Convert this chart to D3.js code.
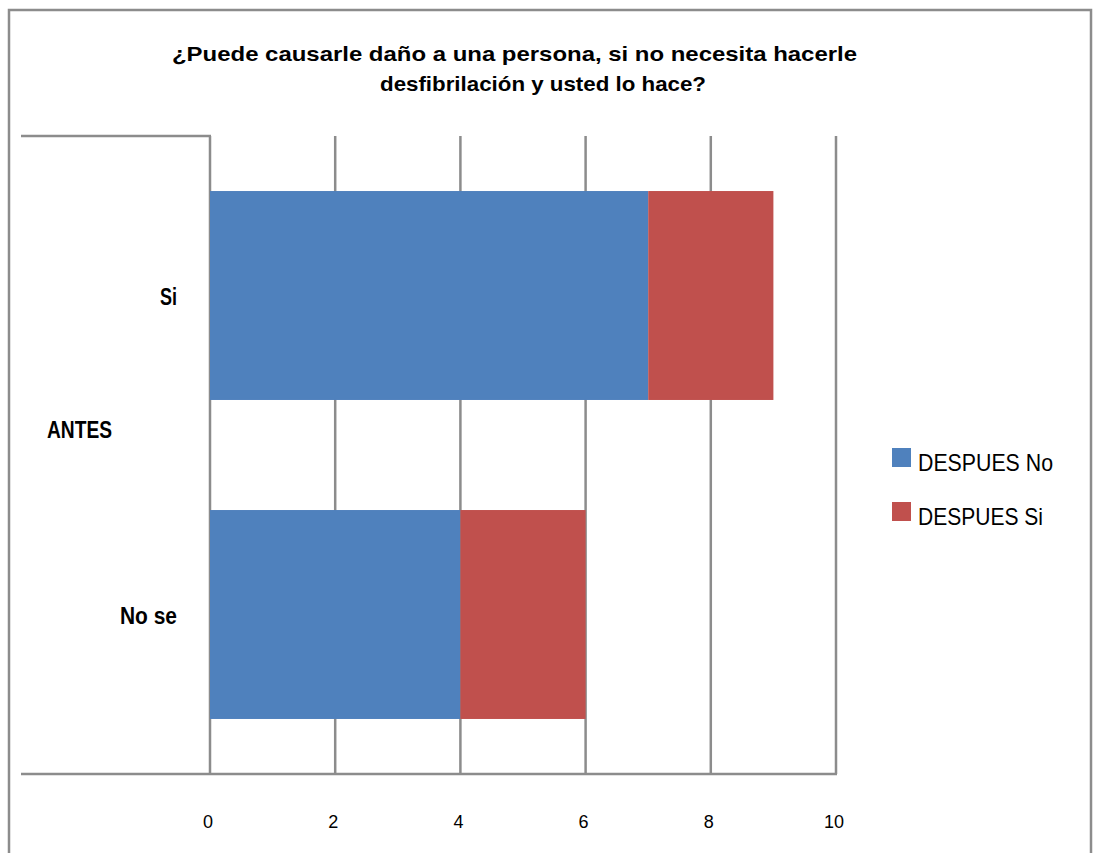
<!DOCTYPE html>
<html>
<head>
<meta charset="utf-8">
<script src="https://cdn.jsdelivr.net/npm/d3@7"></script>
<style>
  html, body { margin: 0; padding: 0; background: #fff; }
  svg { display: block; }
  text { font-family: "Liberation Sans", Arial, sans-serif; fill: #000; }
</style>
</head>
<body>
<svg id="chart" width="1101" height="853"></svg>
<script>
// Data
const categories = ["Si", "No se"];
const groupLabel = "ANTES";
const seriesNames = ["DESPUES No", "DESPUES Si"];
const despuesNo = [7, 4];
const despuesSi = [2, 2];
const xTicks = [0, 2, 4, 6, 8, 10];
const titleLines = ["¿Puede causarle daño a una persona, si no necesita hacerle", "desfibrilación y usted lo hace?"];
const colors = ["#4F81BD", "#C0504D"];

const svg = d3.select("#chart");
const gridColor = "#8c8c8c";

// Outer frame
svg.append("rect")
  .attr("x", 9).attr("y", 10).attr("width", 1082).attr("height", 860)
  .attr("fill", "none").attr("stroke", gridColor).attr("stroke-width", 2.5);

// Title (fitted to its line widths)
const titleLayout = [
  { x: 172, y: 61, w: 685 },
  { x: 380, y: 91, w: 326 }
];
svg.append("g").selectAll("text").data(titleLines).join("text")
  .attr("x", (d, i) => titleLayout[i].x)
  .attr("y", (d, i) => titleLayout[i].y)
  .attr("textLength", (d, i) => titleLayout[i].w)
  .attr("lengthAdjust", "spacingAndGlyphs")
  .style("font-weight", "bold").style("font-size", "21px")
  .text(d => d);

const plot = { left: 210, right: 836, top: 136, bottom: 774 };

const x = d3.scaleLinear().domain([0, 10]).range([plot.left, plot.right]);
const gap = 0.345;
const y = d3.scaleBand().domain(categories)
  .range([plot.top, plot.bottom])
  .paddingInner(gap).paddingOuter(gap / 2);

// Vertical gridlines
svg.append("g").selectAll("line").data(xTicks).join("line")
  .attr("x1", d => x(d)).attr("x2", d => x(d))
  .attr("y1", plot.top).attr("y2", plot.bottom)
  .attr("stroke", gridColor).attr("stroke-width", 2.5);

// Category area rules (top and bottom)
svg.append("line")
  .attr("x1", 21).attr("x2", plot.left + 1)
  .attr("y1", plot.top).attr("y2", plot.top)
  .attr("stroke", gridColor).attr("stroke-width", 2.5);
svg.append("line")
  .attr("x1", 21).attr("x2", plot.right + 1)
  .attr("y1", plot.bottom).attr("y2", plot.bottom)
  .attr("stroke", gridColor).attr("stroke-width", 2.5);

// Stacked bars
const rows = categories.map((c, i) => ({ cat: c, "DESPUES No": despuesNo[i], "DESPUES Si": despuesSi[i] }));
const stacked = d3.stack().keys(seriesNames)(rows);
svg.append("g").selectAll("g").data(stacked).join("g")
  .attr("fill", (d, i) => colors[i])
  .selectAll("rect").data(d => d).join("rect")
  .attr("x", d => x(d[0]))
  .attr("width", d => x(d[1]) - x(d[0]))
  .attr("y", d => y(d.data.cat))
  .attr("height", y.bandwidth());

// X tick labels
svg.append("g").selectAll("text").data(xTicks).join("text")
  .attr("x", d => x(d) - 2).attr("y", 828)
  .attr("text-anchor", "middle")
  .style("font-size", "18px")
  .text(d => d);

// Category labels
const catWidths = { "Si": 17, "No se": 57 };
svg.append("g").selectAll("text").data(categories).join("text")
  .attr("x", d => 177 - catWidths[d])
  .attr("y", d => y(d) + y.bandwidth() / 2 + 9)
  .attr("textLength", d => catWidths[d])
  .attr("lengthAdjust", "spacingAndGlyphs")
  .style("font-weight", "bold").style("font-size", "23px")
  .text(d => d);

svg.append("text")
  .attr("x", 47).attr("y", 438)
  .attr("textLength", 65)
  .attr("lengthAdjust", "spacingAndGlyphs")
  .style("font-weight", "bold").style("font-size", "23px")
  .text(groupLabel);

// Legend
const legendWidths = [135, 125];
const legend = svg.append("g").selectAll("g").data(seriesNames).join("g")
  .attr("transform", (d, i) => `translate(892, ${448 + i * 54})`);
legend.append("rect")
  .attr("width", 19).attr("height", 19)
  .attr("fill", (d, i) => colors[i]);
legend.append("text")
  .attr("x", 26).attr("y", 23)
  .attr("textLength", (d, i) => legendWidths[i])
  .attr("lengthAdjust", "spacingAndGlyphs")
  .style("font-size", "24px")
  .text(d => d);
</script>
</body>
</html>
